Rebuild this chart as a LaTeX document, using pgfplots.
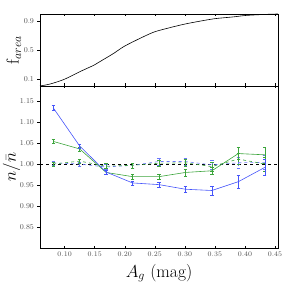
\documentclass[border=0pt]{standalone}
\usepackage{pgfplots}
\pgfplotsset{compat=1.18}
\definecolor{mblue}{RGB}{70,85,250}
\definecolor{mgreen}{RGB}{60,165,60}
\definecolor{tickgray}{RGB}{80,80,80}
\begin{document}
\begin{tikzpicture}
\useasboundingbox (-40pt,-41pt) rectangle (249pt,248pt);
\pgfplotsset{
  every axis/.append style={
    scale only axis,
    xmin=0.059, xmax=0.455,
    xtick={0.10,0.15,...,0.45},
    tick label style={font=\fontsize{7.5}{8}\selectfont, text=tickgray},
    x tick label style={/pgf/number format/.cd, fixed, fixed zerofill, precision=2},
    y tick label style={/pgf/number format/.cd, fixed, fixed zerofill, precision=2},
    major tick length=2.5pt,
    tick style={black, line width=0.4pt},
    axis line style={line width=0.6pt},
    label style={font=\fontsize{17.5}{19}\selectfont},
  },
}
% bottom panel
\begin{axis}[
  name=bot, at={(0pt,0pt)}, anchor=south west,
  width=238pt, height=162pt,
  ymin=0.80, ymax=1.186,
  ytick={0.85,0.90,...,1.151},
  yticklabels={0.85,0.90,0.95,1.00,1.05,1.10,1.15},
  ytick align=outside, ytick pos=left,
  xtick align=inside,
  xlabel={$A_g$ (mag)},
  ylabel={$n/\bar{n}$},
  xlabel style={at={(axis description cs:0.5,-0.155)}, anchor=center},
  ylabel style={at={(axis description cs:-0.12,0.5)}, anchor=center, font=\fontsize{16.5}{18}\selectfont},
  error bars/error bar style={line width=0.5pt},
]
\addplot[black, dashed, line width=0.6pt] coordinates {(0.059,1) (0.455,1)};
% blue dashed
\addplot[mblue!80, dashed, line width=0.6pt, mark=none,
  error bars/.cd, y dir=both, y explicit, error mark options={rotate=90, mark size=1.7pt, mblue!80}]
  coordinates {
  (0.081,1.003) +- (0,0.005)
  (0.125,1.000) +- (0,0.005)
  (0.169,0.993) +- (0,0.006)
  (0.213,0.997) +- (0,0.006)
  (0.257,1.006) +- (0,0.008)
  (0.301,1.006) +- (0,0.009)
  (0.345,0.998) +- (0,0.011)
  (0.389,1.003) +- (0,0.013)
  (0.433,1.004) +- (0,0.016)
  };
% green dashed
\addplot[mgreen, dashed, line width=0.6pt, mark=none,
  error bars/.cd, y dir=both, y explicit, error mark options={rotate=90, mark size=1.7pt, mgreen}]
  coordinates {
  (0.081,1.000) +- (0,0.005)
  (0.125,1.007) +- (0,0.005)
  (0.169,0.995) +- (0,0.006)
  (0.213,0.997) +- (0,0.006)
  (0.257,1.002) +- (0,0.007)
  (0.301,1.003) +- (0,0.008)
  (0.345,0.994) +- (0,0.010)
  (0.389,1.012) +- (0,0.013)
  (0.433,1.000) +- (0,0.016)
  };
% green solid
\addplot[mgreen, line width=0.6pt, mark=none,
  error bars/.cd, y dir=both, y explicit, error mark options={rotate=90, mark size=1.7pt, mgreen}]
  coordinates {
  (0.081,1.054) +- (0,0.005)
  (0.125,1.036) +- (0,0.005)
  (0.169,0.980) +- (0,0.005)
  (0.213,0.970) +- (0,0.006)
  (0.257,0.970) +- (0,0.006)
  (0.301,0.980) +- (0,0.008)
  (0.345,0.984) +- (0,0.009)
  (0.389,1.025) +- (0,0.014)
  (0.433,1.022) +- (0,0.019)
  };
% blue solid
\addplot[mblue, line width=0.6pt, mark=none,
  error bars/.cd, y dir=both, y explicit, error mark options={rotate=90, mark size=1.7pt, mblue}]
  coordinates {
  (0.081,1.134) +- (0,0.006)
  (0.125,1.043) +- (0,0.005)
  (0.169,0.981) +- (0,0.005)
  (0.213,0.955) +- (0,0.005)
  (0.257,0.951) +- (0,0.006)
  (0.301,0.940) +- (0,0.008)
  (0.345,0.937) +- (0,0.011)
  (0.389,0.958) +- (0,0.015)
  (0.433,0.992) +- (0,0.019)
  };
\end{axis}
% top panel
\begin{axis}[
  name=top, at={(bot.north west)}, anchor=south west,
  width=238pt, height=72pt,
  ymin=0, ymax=1,
  ytick={0.1,0.5,0.9},
  yticklabels={0.1,0.5,0.9},
  xticklabels={},
  ytick align=outside, ytick pos=left,
  xtick align=inside,
  ylabel={$\mathrm{f}_{area}$},
  ylabel style={at={(axis description cs:-0.11,0.5)}, anchor=center},
]
\addplot[black, line width=0.6pt, smooth] coordinates {
  (0.059,0.000) (0.076,0.028) (0.0995,0.093) (0.1256,0.20) (0.149,0.29)
  (0.159,0.34) (0.181,0.45) (0.199,0.55) (0.225,0.66) (0.249,0.75)
  (0.275,0.81) (0.300,0.86) (0.325,0.90) (0.350,0.935) (0.381,0.96)
  (0.402,0.98) (0.436,0.995) (0.455,1.0)
};
\end{axis}
\end{tikzpicture}
\end{document}
